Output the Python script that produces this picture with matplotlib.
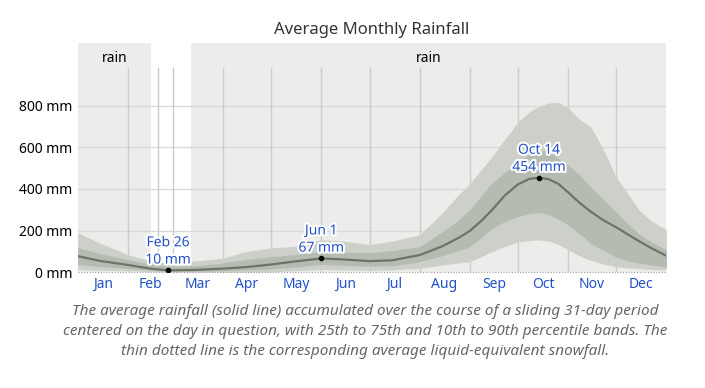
import matplotlib.pyplot as plt
import matplotlib.patheffects as pe

plt.rcParams['font.family'] = ['Noto Sans', 'DejaVu Sans']

# 일자 (1월 1일 = 0)
days = [0, 14, 31, 45, 56, 59, 73, 90, 104, 120, 134, 151, 165, 181, 195,
        212, 226, 236, 243, 250, 257, 265, 273, 280, 286, 292, 298, 304,
        311, 318, 326, 334, 341, 348, 356, 365]

# 평균 강수량 (mm)
rain_mean = [78, 55, 36, 18, 10, 10, 12, 18, 25, 38, 52, 67, 62, 54, 58,
             83, 125, 165, 198, 245, 300, 370, 422, 448, 454, 447, 425, 385,
             335, 292, 250, 216, 183, 150, 115, 80]
# 25~75 백분위
rain_p25 = [38, 28, 19, 10, 6, 6, 6, 8, 12, 16, 25, 38, 34, 30, 32,
            51, 80, 105, 123, 165, 210, 245, 268, 283, 287, 278, 255, 228,
            185, 140, 105, 72, 55, 45, 35, 25]
rain_p75 = [120, 90, 62, 40, 30, 30, 32, 45, 62, 75, 85, 100, 98, 94, 105,
            123, 195, 250, 300, 365, 430, 480, 530, 565, 585, 580, 545, 515,
            470, 410, 350, 290, 235, 185, 145, 108]
# 10~90 백분위
rain_p10 = [14, 10, 8, 4, 2, 2, 2, 2, 2, 3, 8, 14, 12, 10, 12,
            20, 35, 45, 51, 75, 100, 125, 145, 153, 156, 150, 135, 110,
            80, 58, 40, 27, 22, 18, 14, 12]
rain_p90 = [190, 140, 86, 55, 46, 46, 55, 68, 100, 117, 125, 157, 150, 133, 150,
            180, 285, 370, 425, 490, 555, 640, 720, 770, 795, 812, 815, 790,
            735, 700, 590, 455, 380, 300, 245, 205]
# 눈 (액체 환산) - 전부 0
snow_mean = [0] * len(days)

months = ['Jan', 'Feb', 'Mar', 'Apr', 'May', 'Jun', 'Jul', 'Aug', 'Sep', 'Oct', 'Nov', 'Dec']
month_starts = [0, 31, 59, 90, 120, 151, 181, 212, 243, 273, 304, 334, 365]
extra_lines = [49.5]

# 강수 종류 구간
rain_spans = [(0, 45.5), (70.3, 365)]
span_labels = ['rain', 'rain']

# 표시할 주요 지점
marks = [(56, 10, 'Feb 26'), (151, 67, 'Jun 1'), (286, 454, 'Oct 14')]

yticks = [0, 200, 400, 600, 800]

BLUE = '#2150c8'
TOP = 1100
GRID_TOP = 985

fig = plt.figure(figsize=(7.05, 3.88), dpi=100)
ax = fig.add_axes([77.7 / 705, (388 - 272.4) / 388, 588.6 / 705, (272.4 - 43) / 388])
ax.set_xlim(0, 365)
ax.set_ylim(0, TOP)

# 배경 회색 구간과 라벨
for (a, b), lab in zip(rain_spans, span_labels):
    ax.axvspan(a, b, color='#ececea', lw=0, zorder=0)
    ax.text((a + b) / 2, 1028, lab, ha='center', va='center',
            fontsize=10, color='black', zorder=5)

# 격자
for y in yticks[1:]:
    ax.axhline(y, color='#d9d9d9', lw=1, zorder=1)
for d in month_starts[1:-1] + extra_lines:
    ax.vlines(d, 0, GRID_TOP, color='#cccccc', lw=1, zorder=1)

# 백분위 밴드
ax.fill_between(days, rain_p10, rain_p90, color='#ccd0c9', lw=0, zorder=2)
ax.fill_between(days, rain_p25, rain_p75, color='#b6bbb2', lw=0, zorder=3)
ax.plot(days, rain_mean, color='#6c7565', lw=1.6, zorder=4)
ax.plot(days, snow_mean, color='#9a9a9a', lw=0.8, ls=(0, (1, 1.5)), zorder=4, clip_on=False)

# 주요 지점 라벨
for d, v, lab in marks:
    ax.plot(d, v, 'o', color='black', ms=3, zorder=6)
    ax.annotate(f'{lab}\n{v} mm', (d, v), xytext=(0, 2), textcoords='offset points',
                ha='center', va='bottom', fontsize=10, color=BLUE, linespacing=1.2,
                zorder=7, path_effects=[pe.withStroke(linewidth=3, foreground='white')])

# 축
for s in ax.spines.values():
    s.set_visible(False)
ax.set_yticks(yticks)
ax.set_yticklabels([f'{y} mm' for y in yticks], fontsize=10)
mids = [(month_starts[i] + month_starts[i + 1]) / 2 for i in range(12)]
ax.set_xticks(mids)
ax.set_xticklabels(months, fontsize=10, color=BLUE)
ax.tick_params(length=0, pad=4)
ax.tick_params(axis='x', pad=3)

fig.text(371.5 / 705, 1 - 30.5 / 388, 'Average Monthly Rainfall', ha='center', va='center',
         fontsize=12, color='#333333')

caption = ('The average rainfall (solid line) accumulated over the course of a sliding 31-day period\n'
           'centered on the day in question, with 25th to 75th and 10th to 90th percentile bands. The\n'
           'thin dotted line is the corresponding average liquid-equivalent snowfall.')
fig.text(365 / 705, 1 - 331.5 / 388, caption, ha='center', va='center', fontsize=11,
         style='italic', color='#666666', linespacing=1.42)

fig.savefig('out.png', dpi=100)
